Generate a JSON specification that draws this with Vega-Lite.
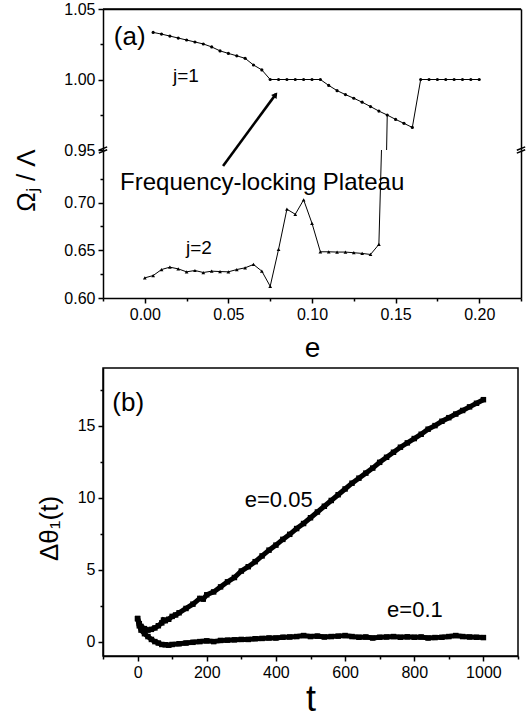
{
  "$schema": "https://vega.github.io/schema/vega-lite/v6.json",
  "padding": {"left": 13, "top": 1, "right": 5, "bottom": 0},
  "background": "white",
  "config": {
    "font": "Liberation Sans",
    "view": {"stroke": null},
    "axis": {"grid": false, "labelFontSize": 16, "labelColor": "black", "domainColor": "black", "tickColor": "black", "domainWidth": 1.5, "tickWidth": 1.5, "labelFont": "Liberation Sans", "titleFont": "Liberation Sans", "titleColor": "black", "titleFontWeight": "normal", "labelPadding": 3, "labelOverlap": false},
    "text": {"font": "Liberation Sans", "color": "black"}
  },
  "datasets": {
    "j1": [
      {"e": 0.005, "v": 1.0334}, {"e": 0.010, "v": 1.0322}, {"e": 0.015, "v": 1.0308}, {"e": 0.020, "v": 1.0294},
      {"e": 0.025, "v": 1.0280}, {"e": 0.030, "v": 1.0266}, {"e": 0.035, "v": 1.0252}, {"e": 0.040, "v": 1.0231},
      {"e": 0.045, "v": 1.0203}, {"e": 0.050, "v": 1.0185}, {"e": 0.055, "v": 1.0168}, {"e": 0.060, "v": 1.0150},
      {"e": 0.065, "v": 1.0103}, {"e": 0.070, "v": 1.0068}, {"e": 0.075, "v": 1.0000}, {"e": 0.080, "v": 1.0000},
      {"e": 0.085, "v": 1.0000}, {"e": 0.090, "v": 1.0000}, {"e": 0.095, "v": 1.0000}, {"e": 0.100, "v": 1.0000},
      {"e": 0.105, "v": 1.0000}, {"e": 0.110, "v": 0.9958}, {"e": 0.115, "v": 0.9921}, {"e": 0.120, "v": 0.9893},
      {"e": 0.125, "v": 0.9867}, {"e": 0.130, "v": 0.9839}, {"e": 0.135, "v": 0.9808}, {"e": 0.140, "v": 0.9776},
      {"e": 0.145, "v": 0.9748}, {"e": 0.150, "v": 0.9717}, {"e": 0.155, "v": 0.9689}, {"e": 0.160, "v": 0.9660},
      {"e": 0.165, "v": 1.0000}, {"e": 0.170, "v": 1.0000}, {"e": 0.175, "v": 1.0000}, {"e": 0.180, "v": 1.0000},
      {"e": 0.185, "v": 1.0000}, {"e": 0.190, "v": 1.0000}, {"e": 0.195, "v": 1.0000}, {"e": 0.200, "v": 1.0000}
    ],
    "j2": [
      {"e": 0.000, "v": 0.6211}, {"e": 0.005, "v": 0.6235}, {"e": 0.010, "v": 0.6298}, {"e": 0.015, "v": 0.6323},
      {"e": 0.020, "v": 0.6305}, {"e": 0.025, "v": 0.6274}, {"e": 0.030, "v": 0.6288}, {"e": 0.035, "v": 0.6267},
      {"e": 0.040, "v": 0.6281}, {"e": 0.045, "v": 0.6277}, {"e": 0.050, "v": 0.6274}, {"e": 0.055, "v": 0.6298},
      {"e": 0.060, "v": 0.6316}, {"e": 0.065, "v": 0.6351}, {"e": 0.070, "v": 0.6281}, {"e": 0.075, "v": 0.6123},
      {"e": 0.080, "v": 0.6509}, {"e": 0.085, "v": 0.6930}, {"e": 0.090, "v": 0.6877}, {"e": 0.095, "v": 0.7028},
      {"e": 0.100, "v": 0.6782}, {"e": 0.105, "v": 0.6484}, {"e": 0.110, "v": 0.6484}, {"e": 0.115, "v": 0.6481},
      {"e": 0.120, "v": 0.6481}, {"e": 0.125, "v": 0.6474}, {"e": 0.130, "v": 0.6467}, {"e": 0.135, "v": 0.6456},
      {"e": 0.140, "v": 0.6561}, {"e": 0.145, "v": 0.9748}
    ],
    "b05": [
      {"t": 0, "v": 1.6}, {"t": 5, "v": 1.25}, {"t": 10, "v": 1.05}, {"t": 20, "v": 0.9}, {"t": 30, "v": 0.8},
      {"t": 40, "v": 0.85}, {"t": 50, "v": 0.95}, {"t": 60, "v": 1.1}, {"t": 70, "v": 1.3}, {"t": 75, "v": 1.5},
      {"t": 80, "v": 1.45}, {"t": 90, "v": 1.55}, {"t": 100, "v": 1.75}, {"t": 110, "v": 1.85}, {"t": 120, "v": 2.0},
      {"t": 140, "v": 2.3}, {"t": 160, "v": 2.6}, {"t": 180, "v": 3.0}, {"t": 190, "v": 2.95}, {"t": 200, "v": 3.25},
      {"t": 220, "v": 3.45}, {"t": 240, "v": 3.8}, {"t": 260, "v": 4.15}, {"t": 280, "v": 4.45}, {"t": 300, "v": 4.9},
      {"t": 320, "v": 5.2}, {"t": 340, "v": 5.55}, {"t": 360, "v": 5.95}, {"t": 380, "v": 6.35}, {"t": 400, "v": 6.7},
      {"t": 420, "v": 7.1}, {"t": 440, "v": 7.45}, {"t": 460, "v": 7.85}, {"t": 480, "v": 8.2}, {"t": 500, "v": 8.6},
      {"t": 520, "v": 9.0}, {"t": 540, "v": 9.4}, {"t": 560, "v": 9.8}, {"t": 580, "v": 10.2}, {"t": 600, "v": 10.6},
      {"t": 620, "v": 11.0}, {"t": 640, "v": 11.35}, {"t": 660, "v": 11.7}, {"t": 680, "v": 12.05}, {"t": 700, "v": 12.45},
      {"t": 720, "v": 12.8}, {"t": 740, "v": 13.15}, {"t": 760, "v": 13.5}, {"t": 780, "v": 13.8}, {"t": 800, "v": 14.1},
      {"t": 820, "v": 14.4}, {"t": 840, "v": 14.75}, {"t": 860, "v": 15.0}, {"t": 880, "v": 15.3}, {"t": 900, "v": 15.55},
      {"t": 920, "v": 15.8}, {"t": 940, "v": 16.05}, {"t": 960, "v": 16.3}, {"t": 980, "v": 16.55}, {"t": 1000, "v": 16.8}
    ],
    "b10": [
      {"t": 0, "v": 1.6}, {"t": 5, "v": 1.1}, {"t": 10, "v": 0.8}, {"t": 20, "v": 0.55}, {"t": 30, "v": 0.35},
      {"t": 40, "v": 0.15}, {"t": 50, "v": 0.0}, {"t": 60, "v": -0.1}, {"t": 70, "v": -0.2}, {"t": 80, "v": -0.22},
      {"t": 90, "v": -0.25}, {"t": 100, "v": -0.2}, {"t": 120, "v": -0.15}, {"t": 140, "v": -0.1}, {"t": 160, "v": -0.05},
      {"t": 180, "v": 0.0}, {"t": 200, "v": 0.05}, {"t": 220, "v": 0.0}, {"t": 240, "v": 0.08}, {"t": 260, "v": 0.1},
      {"t": 280, "v": 0.12}, {"t": 300, "v": 0.15}, {"t": 320, "v": 0.15}, {"t": 340, "v": 0.2}, {"t": 360, "v": 0.22},
      {"t": 380, "v": 0.25}, {"t": 400, "v": 0.25}, {"t": 420, "v": 0.3}, {"t": 440, "v": 0.32}, {"t": 460, "v": 0.35},
      {"t": 480, "v": 0.42}, {"t": 500, "v": 0.35}, {"t": 520, "v": 0.38}, {"t": 540, "v": 0.32}, {"t": 560, "v": 0.35},
      {"t": 580, "v": 0.38}, {"t": 600, "v": 0.42}, {"t": 620, "v": 0.35}, {"t": 640, "v": 0.3}, {"t": 660, "v": 0.32},
      {"t": 680, "v": 0.25}, {"t": 700, "v": 0.3}, {"t": 720, "v": 0.32}, {"t": 740, "v": 0.35}, {"t": 760, "v": 0.3},
      {"t": 780, "v": 0.33}, {"t": 800, "v": 0.3}, {"t": 820, "v": 0.32}, {"t": 840, "v": 0.25}, {"t": 860, "v": 0.28},
      {"t": 880, "v": 0.3}, {"t": 900, "v": 0.35}, {"t": 920, "v": 0.42}, {"t": 940, "v": 0.35}, {"t": 960, "v": 0.32},
      {"t": 980, "v": 0.3}, {"t": 1000, "v": 0.28}
    ]
  },
  "vconcat": [
    {
      "vconcat": [
        {
          "width": 418,
          "height": 141,
          "layer": [
            {
              "data": {"name": "j1"},
              "mark": {"type": "line", "color": "black", "strokeWidth": 1, "clip": true},
              "encoding": {
                "x": {"field": "e", "type": "quantitative", "scale": {"domain": [-0.025, 0.225], "nice": false, "zero": false},
                      "axis": {"orient": "top", "labels": false, "ticks": false, "domain": true, "title": null}},
                "y": {"field": "v", "type": "quantitative", "scale": {"domain": [0.95, 1.05], "nice": false, "zero": false},
                      "axis": {"orient": "left", "values": [0.95, 0.975, 1.0, 1.025, 1.05], "format": ".2f",
                               "labelExpr": "round(datum.value*1000) % 50 == 0 ? datum.label : ''",
                               "tickSize": {"condition": {"test": "round(datum.value*1000) % 50 == 0", "value": 5}, "value": 3},
                               "title": null}}
              }
            },
            {
              "data": {"name": "j2"},
              "mark": {"type": "line", "color": "black", "strokeWidth": 1, "clip": true},
              "encoding": {
                "x": {"field": "e", "type": "quantitative", "scale": {"domain": [-0.025, 0.225], "nice": false, "zero": false}, "axis": null},
                "y": {"field": "v", "type": "quantitative", "scale": {"domain": [0.95, 1.05], "nice": false, "zero": false},
                      "axis": {"orient": "right", "labels": false, "ticks": false, "title": null}}
              }
            },
            {
              "data": {"values": [{"e": -0.025, "e2": 0.225, "v": 1.05}]},
              "mark": {"type": "rule", "color": "black", "strokeWidth": 1.5, "clip": false},
              "encoding": {
                "x": {"field": "e", "type": "quantitative", "scale": {"domain": [-0.025, 0.225], "nice": false, "zero": false}, "axis": null},
                "x2": {"field": "e2"},
                "y": {"field": "v", "type": "quantitative", "scale": {"domain": [0.95, 1.05], "nice": false, "zero": false}, "axis": null}
              }
            },
            {
              "data": {"name": "j1"},
              "mark": {"type": "point", "shape": "circle", "filled": true, "size": 10, "color": "black", "opacity": 1, "clip": true},
              "encoding": {
                "x": {"field": "e", "type": "quantitative", "scale": {"domain": [-0.025, 0.225], "nice": false, "zero": false}, "axis": null},
                "y": {"field": "v", "type": "quantitative", "scale": {"domain": [0.95, 1.05], "nice": false, "zero": false}, "axis": null}
              }
            },
            {
              "data": {"values": [{"e": -0.025, "v": 0.95}, {"e": 0.225, "v": 0.95}]},
              "mark": {"type": "point", "shape": "M-1,0.05L1,-0.75M-1,0.75L1,-0.05", "filled": false, "size": 70, "color": "black", "strokeWidth": 1.5, "opacity": 1, "clip": false},
              "encoding": {
                "x": {"field": "e", "type": "quantitative", "scale": {"domain": [-0.025, 0.225], "nice": false, "zero": false}, "axis": null},
                "y": {"field": "v", "type": "quantitative", "scale": {"domain": [0.95, 1.05], "nice": false, "zero": false}, "axis": null}
              }
            },
            {
              "data": {"values": [{"e": 0.0468, "v": 0.9387, "e2": 0.0785, "v2": 0.9898}]},
              "mark": {"type": "rule", "color": "black", "strokeWidth": 2.6, "clip": false},
              "encoding": {
                "x": {"field": "e", "type": "quantitative", "scale": {"domain": [-0.025, 0.225], "nice": false, "zero": false}, "axis": null},
                "y": {"field": "v", "type": "quantitative", "scale": {"domain": [0.95, 1.05], "nice": false, "zero": false}, "axis": null},
                "x2": {"field": "e2"},
                "y2": {"field": "v2"}
              }
            },
            {
              "data": {"values": [{"e": 0.0782, "v": 0.9892}]},
              "mark": {"type": "point", "shape": "triangle-up", "filled": true, "size": 45, "angle": 36, "color": "black", "opacity": 1, "clip": false},
              "encoding": {
                "x": {"field": "e", "type": "quantitative", "scale": {"domain": [-0.025, 0.225], "nice": false, "zero": false}, "axis": null},
                "y": {"field": "v", "type": "quantitative", "scale": {"domain": [0.95, 1.05], "nice": false, "zero": false}, "axis": null}
              }
            },
            {
              "data": {"values": [{"e": -0.009, "v": 1.0243, "label": "(a)"}]},
              "mark": {"type": "text", "fontSize": 26, "align": "center", "baseline": "alphabetic", "clip": false},
              "encoding": {
                "x": {"field": "e", "type": "quantitative", "scale": {"domain": [-0.025, 0.225], "nice": false, "zero": false}, "axis": null},
                "y": {"field": "v", "type": "quantitative", "scale": {"domain": [0.95, 1.05], "nice": false, "zero": false}, "axis": null},
                "text": {"field": "label"}
              }
            },
            {
              "data": {"values": [{"e": 0.0246, "v": 0.9982, "label": "j=1"}]},
              "mark": {"type": "text", "fontSize": 19, "align": "center", "baseline": "alphabetic", "clip": false},
              "encoding": {
                "x": {"field": "e", "type": "quantitative", "scale": {"domain": [-0.025, 0.225], "nice": false, "zero": false}, "axis": null},
                "y": {"field": "v", "type": "quantitative", "scale": {"domain": [0.95, 1.05], "nice": false, "zero": false}, "axis": null},
                "text": {"field": "label"}
              }
            }
          ],
          "resolve": {"axis": {"x": "independent", "y": "independent"}}
        },
        {
          "width": 418,
          "height": 148,
          "layer": [
            {
              "data": {"name": "j2"},
              "mark": {"type": "line", "color": "black", "strokeWidth": 1, "clip": true},
              "encoding": {
                "x": {"field": "e", "type": "quantitative", "scale": {"domain": [-0.025, 0.225], "nice": false, "zero": false},
                      "axis": {"orient": "bottom", "values": [-0.025, 0, 0.025, 0.05, 0.075, 0.1, 0.125, 0.15, 0.175, 0.2, 0.225], "format": ".2f",
                               "labelExpr": "round(datum.value*1000) % 50 == 0 ? datum.label : ''",
                               "tickSize": {"condition": {"test": "round(datum.value*1000) % 50 == 0", "value": 5}, "value": 3},
                               "title": "e", "titleFontSize": 28, "titleBaseline": "alphabetic", "titleY": 58}},
                "y": {"field": "v", "type": "quantitative", "scale": {"domain": [0.6, 0.755], "nice": false, "zero": false},
                      "axis": {"orient": "left", "values": [0.6, 0.625, 0.65, 0.675, 0.7, 0.725], "format": ".2f",
                               "labelExpr": "round(datum.value*1000) % 50 == 0 ? datum.label : ''",
                               "tickSize": {"condition": {"test": "round(datum.value*1000) % 50 == 0", "value": 5}, "value": 3},
                               "title": "Ωⱼ / Λ", "titleFontSize": 26, "titleAngle": 270, "titleAlign": "center", "titleBaseline": "middle", "titleX": -77, "titleY": 30}}
              }
            },
            {
              "data": {"name": "j2"},
              "transform": [{"filter": "datum.v < 0.9"}],
              "mark": {"type": "point", "shape": "triangle-up", "filled": true, "size": 14, "color": "black", "opacity": 1, "clip": true},
              "encoding": {
                "x": {"field": "e", "type": "quantitative", "scale": {"domain": [-0.025, 0.225], "nice": false, "zero": false}, "axis": null},
                "y": {"field": "v", "type": "quantitative", "scale": {"domain": [0.6, 0.755], "nice": false, "zero": false},
                      "axis": {"orient": "right", "labels": false, "ticks": false, "title": null}}
              }
            },
            {
              "data": {"values": [{"e": 0.0702, "v": 0.7134, "label": "Frequency-locking Plateau"}]},
              "mark": {"type": "text", "fontSize": 24, "align": "center", "baseline": "alphabetic", "clip": false},
              "encoding": {
                "x": {"field": "e", "type": "quantitative", "scale": {"domain": [-0.025, 0.225], "nice": false, "zero": false}, "axis": null},
                "y": {"field": "v", "type": "quantitative", "scale": {"domain": [0.6, 0.755], "nice": false, "zero": false}, "axis": null},
                "text": {"field": "label"}
              }
            },
            {
              "data": {"values": [{"e": 0.0324, "v": 0.6461, "label": "j=2"}]},
              "mark": {"type": "text", "fontSize": 19, "align": "center", "baseline": "alphabetic", "clip": false},
              "encoding": {
                "x": {"field": "e", "type": "quantitative", "scale": {"domain": [-0.025, 0.225], "nice": false, "zero": false}, "axis": null},
                "y": {"field": "v", "type": "quantitative", "scale": {"domain": [0.6, 0.755], "nice": false, "zero": false}, "axis": null},
                "text": {"field": "label"}
              }
            }
          ],
          "resolve": {"axis": {"x": "independent", "y": "independent"}}
        }
      ],
      "spacing": 0,
      "bounds": "flush"
    },
    {
      "width": 415,
      "height": 288,
      "view": {"stroke": "black", "strokeWidth": 1.5},
      "layer": [
        {
          "data": {"name": "b05"},
          "mark": {"type": "line", "color": "black", "strokeWidth": 5},
          "encoding": {
            "x": {"field": "t", "type": "quantitative", "scale": {"domain": [-100, 1100], "nice": false, "zero": false},
                  "axis": {"orient": "bottom", "values": [0, 200, 400, 600, 800, 1000], "format": "d", "labelFlush": false,
                           "tickSize": 5, "title": "t", "titleFontSize": 36, "titleBaseline": "alphabetic", "titleY": 54}},
            "y": {"field": "v", "type": "quantitative", "scale": {"domain": [-1, 19], "nice": false, "zero": false},
                  "axis": {"values": [0, 2.5, 5, 7.5, 10, 12.5, 15, 17.5],
                           "labelExpr": "datum.value % 5 == 0 ? datum.label : ''",
                           "tickSize": {"condition": {"test": "datum.value % 5 == 0", "value": 5}, "value": 3},
                           "title": "Δθ₁(t)", "titleFontSize": 26, "titleAngle": 270, "titleAlign": "center", "titleBaseline": "middle", "titleX": -54, "titleY": 160}}
          }
        },
        {
          "data": {"name": "b10"},
          "mark": {"type": "line", "color": "black", "strokeWidth": 5},
          "encoding": {
            "x": {"field": "t", "type": "quantitative",
                  "axis": {"orient": "bottom", "values": [-100, 100, 300, 500, 700, 900, 1100], "labels": false, "domain": false, "tickSize": 3, "title": null, "offset": 0}},
            "y": {"field": "v", "type": "quantitative"}
          }
        },
        {
          "data": {"name": "b05"},
          "mark": {"type": "point", "shape": "square", "filled": true, "size": 30, "color": "black", "opacity": 1},
          "encoding": {
            "x": {"field": "t", "type": "quantitative", "axis": null},
            "y": {"field": "v", "type": "quantitative"}
          }
        },
        {
          "data": {"name": "b10"},
          "mark": {"type": "point", "shape": "square", "filled": true, "size": 30, "color": "black", "opacity": 1},
          "encoding": {
            "x": {"field": "t", "type": "quantitative", "axis": null},
            "y": {"field": "v", "type": "quantitative"}
          }
        },
        {
          "data": {"values": [{"t": -27, "v": 16.04, "label": "(b)"}]},
          "mark": {"type": "text", "fontSize": 26, "align": "center", "baseline": "alphabetic"},
          "encoding": {
            "x": {"field": "t", "type": "quantitative", "axis": null},
            "y": {"field": "v", "type": "quantitative"},
            "text": {"field": "label"}
          }
        },
        {
          "data": {"values": [{"t": 408, "v": 9.35, "label": "e=0.05"}, {"t": 802, "v": 1.7, "label": "e=0.1"}]},
          "mark": {"type": "text", "fontSize": 22, "align": "center", "baseline": "alphabetic"},
          "encoding": {
            "x": {"field": "t", "type": "quantitative", "axis": null},
            "y": {"field": "v", "type": "quantitative"},
            "text": {"field": "label"}
          }
        }
      ],
      "resolve": {"axis": {"x": "independent"}}
    }
  ],
  "spacing": 5
}
